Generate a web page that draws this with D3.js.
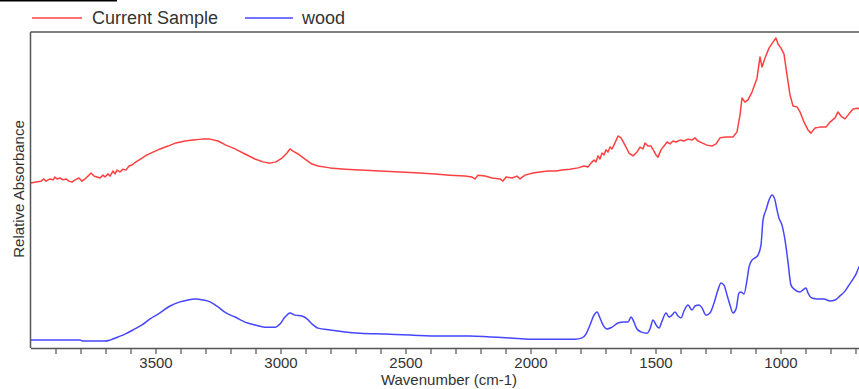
<!DOCTYPE html>
<html>
<head>
<meta charset="utf-8">
<script src="https://cdn.jsdelivr.net/npm/d3@7"></script>
<style>
  html, body { margin: 0; padding: 0; background: #fff; }
  svg { display: block; font-family: "Liberation Sans", Arial, sans-serif; }
</style>
</head>
<body>
<svg id="chart" width="859" height="389"></svg>
<script>
// Wavenumbers (cm-1) and relative absorbance for each spectrum
const sampleWavenumber = [4000,3978,3958,3946,3938,3922,3910,3902,3894,3882,3870,3858,3846,3834,3822,3806,3794,3782,3766,3758,3746,3734,3722,3710,3702,3690,3682,3670,3662,3654,3642,3630,3618,3606,3594,3578,3554,3534,3510,3482,3450,3418,3382,3350,3314,3282,3250,3218,3182,3142,3102,3070,3042,3018,2994,2974,2962,2950,2930,2902,2874,2850,2802,2742,2682,2602,2522,2442,2382,2322,2262,2234,2222,2210,2182,2154,2122,2110,2098,2074,2054,2042,2022,1990,1962,1930,1898,1874,1842,1810,1786,1770,1758,1746,1738,1730,1722,1714,1706,1698,1690,1682,1674,1662,1650,1638,1622,1606,1590,1574,1562,1550,1542,1530,1518,1506,1498,1490,1478,1466,1454,1442,1430,1418,1402,1386,1370,1354,1342,1330,1314,1294,1274,1258,1242,1218,1190,1174,1162,1154,1142,1130,1114,1094,1082,1074,1062,1046,1030,1018,1010,998,986,974,962,950,934,922,906,890,878,862,842,818,802,782,770,758,742,726,710,694,678];
const sampleAbsorbance = [52.2,52.5,52.8,53.5,52.8,53.5,53.2,54.1,53.5,53.8,53.2,53.5,52.8,52.5,53.2,53.8,52.8,53.5,54.7,55.4,54.4,54.1,53.8,54.7,54.1,55.1,54.4,56.0,55.1,56.3,55.7,56.6,56.3,57.6,57.9,58.9,60.1,61.1,62.0,63.0,63.9,64.9,65.5,65.8,66.1,66.1,65.5,64.2,63.0,61.4,59.8,58.9,58.5,58.9,60.1,61.7,63.0,62.3,61.4,59.8,58.2,57.6,57.0,56.6,56.3,56.0,55.7,55.4,55.1,54.7,54.4,54.1,53.5,54.7,54.4,53.8,53.5,52.8,54.1,53.8,54.4,53.5,54.7,55.4,55.7,56.0,56.0,56.3,56.6,57.0,57.6,57.3,58.5,59.5,58.9,60.8,59.8,61.7,61.1,62.7,62.0,63.6,63.0,64.9,67.1,66.5,64.2,61.7,60.8,62.0,63.6,63.0,64.9,63.9,63.9,62.3,61.1,60.4,62.7,63.9,65.2,64.6,65.5,65.2,65.8,65.5,66.1,65.8,66.5,65.5,64.9,64.2,63.9,64.6,66.5,66.8,66.8,68.4,73.7,79.1,77.8,78.5,81.0,85.4,92.1,88.9,91.8,94.9,96.8,98.1,96.2,94.9,93.0,86.4,80.1,76.6,76.3,74.7,71.5,69.0,68.0,69.6,69.9,69.9,71.5,72.8,74.7,73.4,72.5,74.1,75.6,75.9,75.6];

const woodWavenumber = [4000,3802,3790,3702,3682,3650,3622,3590,3554,3522,3482,3442,3402,3370,3342,3310,3282,3250,3218,3182,3142,3102,3062,3022,3002,2982,2962,2942,2914,2894,2874,2850,2802,2742,2682,2582,2482,2362,2242,2162,2082,2002,1882,1822,1794,1778,1762,1746,1734,1722,1710,1694,1674,1650,1626,1610,1598,1586,1574,1558,1534,1522,1510,1498,1486,1474,1458,1446,1434,1422,1410,1398,1386,1370,1354,1342,1326,1314,1298,1282,1266,1250,1238,1226,1214,1202,1190,1178,1166,1158,1146,1134,1126,1114,1102,1090,1078,1070,1058,1046,1034,1022,1014,1006,994,982,970,958,942,922,910,898,890,874,850,826,802,782,762,742,726,710,698,686,670];
const woodAbsorbance = [2.5,2.5,2.2,2.2,2.5,3.5,4.4,5.7,7.3,9.2,11.1,13.3,14.6,15.2,15.5,15.2,14.6,13.0,11.1,9.8,8.2,7.3,6.6,6.6,7.6,9.8,11.1,10.4,10.1,9.2,7.6,6.3,5.7,5.1,4.7,4.4,4.1,3.8,3.8,3.5,3.2,2.8,2.8,2.8,3.2,4.4,7.3,10.4,11.4,9.5,7.3,6.0,6.6,7.9,8.2,8.2,9.8,8.2,6.0,5.1,4.7,6.0,8.9,7.3,6.3,8.5,11.1,9.8,10.4,11.4,10.1,9.5,11.7,13.6,12.0,13.3,13.6,12.7,10.4,11.1,14.2,18.4,20.6,19.9,16.8,13.6,11.1,12.3,17.4,17.7,17.1,21.5,25.6,27.8,28.5,29.4,32.6,40.5,43.7,46.8,48.4,46.8,43.7,41.1,38.9,34.2,27.2,19.9,18.4,17.7,18.4,19.0,17.4,15.8,15.5,15.5,14.9,15.2,16.5,18.0,19.9,21.8,23.4,25.6,27.2];

// Axis ticks: a mark every 100 cm-1, labels every 500 cm-1
const xTickValues = d3.range(3900, 600, -100);
const xTickLabels = [3500, 3000, 2500, 2000, 1500, 1000];

const seriesNames = ["Current Sample", "wood"];
const seriesColors = ["#ff4040", "#4646ff"];

const svg = d3.select("#chart");
const W = 859, H = 389;
const plot = { left: 30.5, top: 32, bottom: 348 };

const x = d3.scaleLinear().domain([4000, 650]).range([plot.left, plot.left + 3350 * 0.25]);
const y = d3.scaleLinear().domain([0, 100]).range([plot.bottom, plot.top]);

// small rule at the very top-left corner
svg.append("rect").attr("x", 0).attr("y", 0).attr("width", 117).attr("height", 1.5).attr("fill", "#000");

svg.append("clipPath").attr("id", "plotClip")
  .append("rect").attr("x", plot.left).attr("y", plot.top)
  .attr("width", W - plot.left).attr("height", plot.bottom - plot.top);

const series = [
  { wn: sampleWavenumber, ab: sampleAbsorbance, curve: d3.curveLinear },
  { wn: woodWavenumber, ab: woodAbsorbance, curve: d3.curveMonotoneX }
];

const g = svg.append("g").attr("clip-path", "url(#plotClip)");
series.forEach((s, i) => {
  const pts = s.wn.map((w, k) => [w, s.ab[k]]);
  const line = d3.line().x(d => x(d[0])).y(d => y(d[1])).curve(s.curve);
  g.append("path").datum(pts)
    .attr("fill", "none")
    .attr("stroke", seriesColors[i])
    .attr("stroke-width", 1.5)
    .attr("stroke-linejoin", "round")
    .attr("d", line);
});

// frame: top and left borders
svg.append("line").attr("x1", plot.left).attr("x2", W).attr("y1", plot.top).attr("y2", plot.top)
  .attr("stroke", "#555").attr("stroke-width", 1.5);
svg.append("line").attr("x1", plot.left).attr("x2", plot.left).attr("y1", plot.top).attr("y2", plot.bottom)
  .attr("stroke", "#555").attr("stroke-width", 1.5);

// bottom axis
const xAxis = d3.axisBottom(x)
  .tickValues(xTickValues)
  .tickSize(6)
  .tickSizeOuter(0)
  .tickFormat(d => xTickLabels.includes(d) ? String(d) : "");
const ax = svg.append("g").attr("transform", `translate(0,${plot.bottom})`).call(xAxis);
ax.select(".domain").attr("stroke", "#555").attr("stroke-width", 1.5);
ax.selectAll(".tick line").attr("stroke", "#555").attr("stroke-width", 1.2);
ax.selectAll(".tick text")
  .attr("fill", "#333").attr("font-size", 15).attr("dy", 0).attr("y", 20)
  .style("font-family", "'Liberation Sans', Arial, sans-serif");

// axis titles
svg.append("text").attr("x", 449).attr("y", 385).attr("text-anchor", "middle")
  .attr("font-size", 15).attr("fill", "#333").text("Wavenumber (cm-1)");
svg.append("text").attr("transform", "translate(24,189) rotate(-90)").attr("text-anchor", "middle")
  .attr("font-size", 15).attr("fill", "#333").text("Relative Absorbance");

// legend
const legendItems = [
  { x1: 32, x2: 82, tx: 92 },
  { x1: 245, x2: 293, tx: 302 }
];
legendItems.forEach((it, i) => {
  svg.append("line").attr("x1", it.x1).attr("x2", it.x2).attr("y1", 18).attr("y2", 18)
    .attr("stroke", seriesColors[i]).attr("stroke-width", 1.3);
  svg.append("text").attr("x", it.tx).attr("y", 24).attr("font-size", 18)
    .attr("fill", "#333").text(seriesNames[i]);
});
</script>
</body>
</html>
